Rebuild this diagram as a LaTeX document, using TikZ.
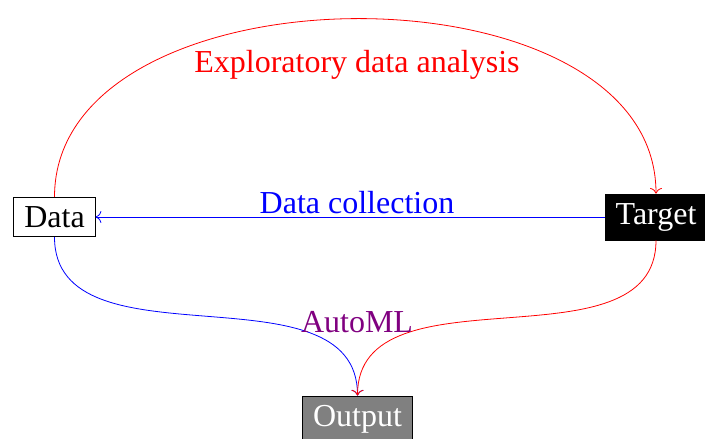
\documentclass[tikz,border=0pt]{standalone}
\usepackage{fontspec}
\usetikzlibrary{arrows.meta}
\setmainfont{Liberation Serif}
\definecolor{autopurple}{rgb}{0.5,0,0.5}
\begin{document}
\begin{tikzpicture}[x=1pt,y=-1pt,>={To[scale=1.7]},
  every node/.style={font=\fontsize{32}{38}\selectfont, inner sep=9pt},
  box/.style={draw=black, line width=0.8pt, inner xsep=10.5pt},
  link/.style={line width=0.8pt,->}]
\useasboundingbox (0,0) rectangle (705,439);
\node[box, fill=white] (data) at (54.5,217) {Data};
\node[box, fill=black, text=white] (target) at (656,217) {Target};
\node[box, fill=black!50, text=white] (output) at (357.5,419) {Output};
\draw[link, draw=blue] (target.west) -- (data.east);
\node[text=blue, inner sep=0pt] (dc) at (357,203) {Data collection};
\draw[link, draw=red] (data.north) to[out=90, in=90] (target.north);
\node[text=red, inner sep=0pt] (eda) at (357,65) {Exploratory data analysis};
\draw[link, draw=blue] (data.south) to[out=-90, in=90] (output.north);
\draw[link, draw=red] (target.south) to[out=-90, in=90] (output.north);
\node[text=autopurple, inner sep=0pt] (automl) at (357,322) {AutoML};
\end{tikzpicture}
\end{document}
